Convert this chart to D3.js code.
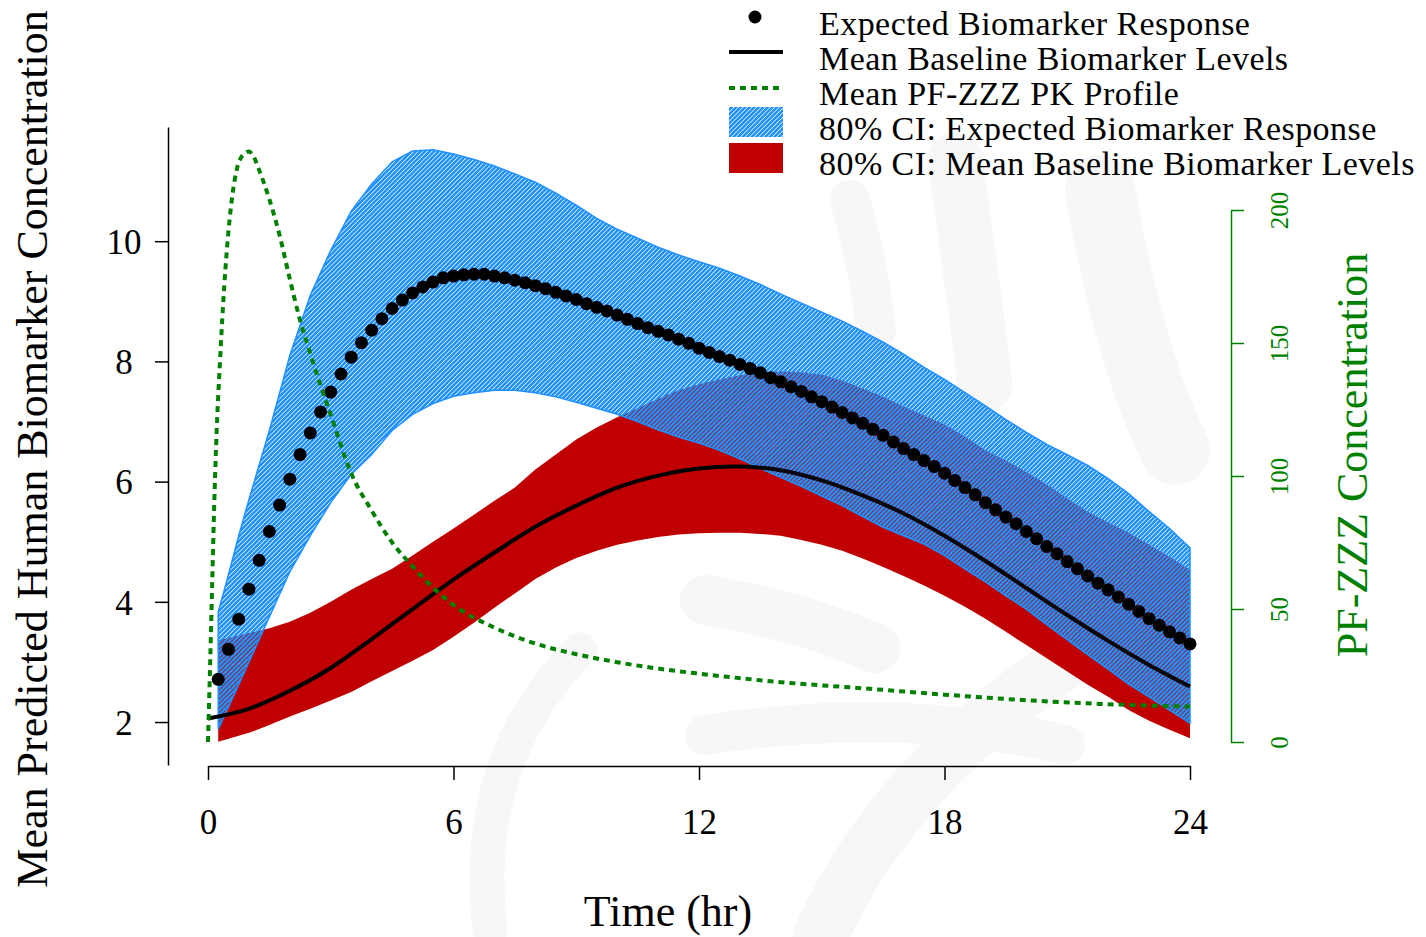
<!DOCTYPE html>
<html>
<head>
<meta charset="utf-8">
<script src="https://cdn.jsdelivr.net/npm/d3@7"></script>
<style>
  html, body { margin: 0; padding: 0; background: #fff; }
  svg text { font-family: "Liberation Serif", "Times New Roman", serif; }
</style>
</head>
<body>
<svg id="chart" width="1426" height="937"></svg>
<script>
// ---- data ----
const bandTime = [0.25, 0.5, 0.75, 1, 1.5, 2, 2.5, 3, 3.5, 4, 4.5, 5, 5.5, 6, 6.5, 7, 7.5, 8, 8.5, 9, 9.5,
  10, 10.5, 11, 11.5, 12, 12.5, 13, 13.5, 14, 14.5, 15, 15.5, 16, 16.5, 17, 17.5, 18, 18.5, 19, 19.5,
  20, 20.5, 21, 21.5, 22, 22.5, 23, 23.5, 24];
const respUpper = [3.83, 4.45, 5.1, 5.7, 6.85, 8.1, 9.1, 9.85, 10.5, 10.95, 11.32, 11.5, 11.52, 11.45, 11.36,
  11.25, 11.12, 10.98, 10.8, 10.6, 10.38, 10.2, 10.05, 9.9, 9.77, 9.66, 9.55, 9.42, 9.28, 9.12, 8.97,
  8.82, 8.67, 8.5, 8.32, 8.12, 7.9, 7.7, 7.48, 7.26, 7.03, 6.82, 6.62, 6.45, 6.27, 6.05, 5.8, 5.5, 5.22, 4.9];
const respLower = [1.88, 2.25, 2.62, 3.0, 3.75, 4.5, 5.1, 5.65, 6.12, 6.45, 6.85, 7.12, 7.3, 7.42, 7.48,
  7.52, 7.52, 7.48, 7.41, 7.32, 7.22, 7.12, 7.0, 6.86, 6.74, 6.64, 6.52, 6.38, 6.22, 6.07, 5.92,
  5.76, 5.6, 5.42, 5.24, 5.1, 4.96, 4.77, 4.55, 4.33, 4.1, 3.88, 3.62, 3.37, 3.12, 2.88, 2.63, 2.42, 2.2, 1.98];
const baseUpper = [3.36, 3.4, 3.44, 3.48, 3.56, 3.67, 3.82, 4.0, 4.2, 4.38, 4.55, 4.77, 5.0, 5.22, 5.45,
  5.68, 5.9, 6.2, 6.45, 6.7, 6.9, 7.07, 7.22, 7.38, 7.52, 7.62, 7.7, 7.77, 7.81, 7.83, 7.82,
  7.78, 7.68, 7.55, 7.41, 7.25, 7.1, 6.95, 6.75, 6.52, 6.35, 6.16, 5.95, 5.72, 5.5, 5.32, 5.15, 4.95, 4.75, 4.53];
const baseLower = [1.67, 1.72, 1.77, 1.82, 1.95, 2.09, 2.22, 2.36, 2.5, 2.68, 2.85, 3.02, 3.2, 3.42, 3.65,
  3.9, 4.14, 4.38, 4.57, 4.73, 4.85, 4.95, 5.02, 5.08, 5.12, 5.14, 5.15, 5.15, 5.13, 5.1, 5.03,
  4.95, 4.85, 4.72, 4.58, 4.43, 4.27, 4.1, 3.92, 3.72, 3.5, 3.28, 3.06, 2.84, 2.62, 2.42, 2.2, 2.02, 1.87, 1.73];

const baseTime = [0, 1, 2, 3, 4, 5, 6, 7, 8, 9, 10, 11, 12, 13, 14, 15, 16, 17, 18, 19, 20, 21, 22, 23, 24];
const baseMean = [2.06, 2.22, 2.52, 2.9, 3.38, 3.88, 4.37, 4.82, 5.25, 5.6, 5.9, 6.1, 6.22, 6.25, 6.19,
  6.02, 5.77, 5.47, 5.1, 4.68, 4.23, 3.78, 3.35, 2.95, 2.59];

const respTime = [0.25, 0.5, 0.75, 1, 1.25, 1.5, 1.75, 2, 2.25, 2.5, 2.75, 3, 3.25, 3.5, 3.75, 4,
  4.25, 4.5, 4.75, 5, 5.25, 5.5, 5.75, 6, 6.25, 6.5, 6.75, 7, 7.25, 7.5, 7.75, 8,
  8.25, 8.5, 8.75, 9, 9.25, 9.5, 9.75, 10, 10.25, 10.5, 10.75, 11, 11.25, 11.5, 11.75, 12,
  12.25, 12.5, 12.75, 13, 13.25, 13.5, 13.75, 14, 14.25, 14.5, 14.75, 15, 15.25, 15.5, 15.75, 16,
  16.25, 16.5, 16.75, 17, 17.25, 17.5, 17.75, 18, 18.25, 18.5, 18.75, 19, 19.25, 19.5, 19.75, 20,
  20.25, 20.5, 20.75, 21, 21.25, 21.5, 21.75, 22, 22.25, 22.5, 22.75, 23, 23.25, 23.5, 23.75, 24];
const respMean = [2.71, 3.21, 3.71, 4.21, 4.69, 5.17, 5.61, 6.04, 6.45, 6.81, 7.16, 7.49, 7.79, 8.07, 8.31, 8.52,
  8.71, 8.88, 9.02, 9.14, 9.24, 9.32, 9.39, 9.42, 9.44, 9.45, 9.45, 9.42, 9.39, 9.35, 9.31, 9.26,
  9.21, 9.15, 9.09, 9.03, 8.96, 8.9, 8.84, 8.77, 8.7, 8.63, 8.56, 8.5, 8.44, 8.37, 8.3, 8.22,
  8.15, 8.08, 8.02, 7.95, 7.88, 7.81, 7.73, 7.66, 7.58, 7.5, 7.41, 7.33, 7.24, 7.15, 7.06, 6.97,
  6.87, 6.77, 6.66, 6.55, 6.45, 6.35, 6.25, 6.14, 6.02, 5.9, 5.78, 5.65, 5.53, 5.41, 5.3, 5.17,
  5.05, 4.92, 4.8, 4.67, 4.55, 4.43, 4.31, 4.2, 4.08, 3.96, 3.84, 3.72, 3.61, 3.5, 3.4, 3.3];

const pkTime = [0, 0.05, 0.1, 0.15, 0.2, 0.3, 0.4, 0.5, 0.6, 0.7, 0.8, 0.9, 1.0, 1.1, 1.25, 1.5, 1.75,
  2, 2.25, 2.5, 2.75, 3, 3.5, 4, 4.5, 5, 5.5, 6, 7, 8, 9, 10, 11, 12, 14, 16, 18, 20, 22, 24];
const pkConc = [0, 28, 58, 88, 112, 145, 172, 192, 206, 215, 219.5, 221.3, 222, 220.5, 215, 204, 190.5,
  174, 158.6, 146, 134, 123, 101, 87, 75, 66, 58, 51.5, 43, 37, 33, 30, 27.6, 25.7, 22.5, 20.2,
  17.8, 15.7, 14.2, 13.3];

const xTicks = [0, 6, 12, 18, 24];
const yTicks = [2, 4, 6, 8, 10];
const pkTicks = [0, 50, 100, 150, 200];

const legendLabels = [
  "Expected Biomarker Response",
  "Mean Baseline Biomarker Levels",
  "Mean PF-ZZZ PK Profile",
  "80% CI: Expected Biomarker Response",
  "80% CI: Mean Baseline Biomarker Levels"
];

// ---- setup ----
const svg = d3.select("#chart");
const BLUE = "#1E90FF";
const RED = "#C00000";
const GREEN = "#008000";

const x = d3.scaleLinear().domain([0, 24]).range([208, 1190]);
const y = d3.scaleLinear().domain([1.285, 11.9]).range([765, 127]);
const yPk = d3.scaleLinear().domain([0, 200]).range([742, 210]);

svg.append("rect").attr("width", 1426).attr("height", 937).attr("fill", "#fff");

// faint background watermark
const wm = svg.append("g").attr("fill", "none").attr("stroke", "#f7f7f7").attr("stroke-linecap", "round");
[
  ["M 850 200 Q 870 270 876 330", 40],
  ["M 955 160 Q 975 300 985 385", 55],
  ["M 1100 190 Q 1130 360 1175 450", 70],
  ["M 705 600 Q 800 615 875 648", 50],
  ["M 705 735 Q 900 705 1065 745", 40],
  ["M 820 937 Q 900 760 1100 640", 55],
  ["M 490 930 Q 470 760 580 650", 35]
].forEach(([d, w]) => wm.append("path").attr("d", d).attr("stroke-width", w));

const defs = svg.append("defs");
defs.append("pattern")
  .attr("id", "hatch")
  .attr("patternUnits", "userSpaceOnUse")
  .attr("width", 3.2)
  .attr("height", 3.2)
  .attr("patternTransform", "rotate(45)")
  .append("rect")
  .attr("width", 2.5)
  .attr("height", 3.2)
  .attr("fill", BLUE);

// ---- bands ----
const baseBand = bandTime.map((t, i) => ({ t, lo: baseLower[i], hi: baseUpper[i] }));
const respBand = bandTime.map((t, i) => ({ t, lo: respLower[i], hi: respUpper[i] }));
const band = d3.area().x(d => x(d.t)).y0(d => y(d.lo)).y1(d => y(d.hi));

svg.append("path").datum(baseBand).attr("d", band).attr("fill", RED);
svg.append("path").datum(respBand).attr("d", band)
  .attr("fill", "url(#hatch)").attr("stroke", BLUE).attr("stroke-width", 1.5);

// mean baseline line
const baseLine = d3.line().x((d, i) => x(baseTime[i])).y(d => y(d)).curve(d3.curveCatmullRom);
svg.append("path").datum(baseMean).attr("d", baseLine)
  .attr("fill", "none").attr("stroke", "#000").attr("stroke-width", 4);

// expected response dots
svg.append("g").selectAll("circle").data(respMean).join("circle")
  .attr("cx", (d, i) => x(respTime[i])).attr("cy", d => y(d)).attr("r", 6.5).attr("fill", "#000");

// PK profile
const pkLine = d3.line().x((d, i) => x(pkTime[i])).y(d => yPk(d)).curve(d3.curveMonotoneX);
svg.append("path").datum(pkConc).attr("d", pkLine)
  .attr("fill", "none").attr("stroke", GREEN).attr("stroke-width", 4).attr("stroke-dasharray", "6 5");

// ---- axes ----
const xAxis = svg.append("g").attr("transform", "translate(0,766)")
  .call(d3.axisBottom(x).tickValues(xTicks).tickSize(14).tickSizeOuter(0));
const yAxis = svg.append("g").attr("transform", "translate(168,0)")
  .call(d3.axisLeft(y).tickValues(yTicks).tickSize(13).tickSizeOuter(0));
const pkAxis = svg.append("g").attr("transform", "translate(1231,0)")
  .call(d3.axisRight(yPk).tickValues(pkTicks).tickSize(13).tickSizeOuter(0));

[xAxis, yAxis].forEach(g => {
  g.selectAll("path, line").attr("stroke", "#000").attr("stroke-width", 1.5);
  g.selectAll("text").attr("fill", "#000").style("font-family", "Liberation Serif").style("font-size", "35px");
});
xAxis.selectAll("text").attr("y", 68).attr("dy", 0);
yAxis.selectAll("text").attr("text-anchor", "middle").attr("x", -44).attr("dy", "0.35em");

pkAxis.selectAll("path, line").attr("stroke", GREEN).attr("stroke-width", 1.5);
pkAxis.selectAll("text")
  .attr("fill", GREEN).style("font-family", "Liberation Serif").style("font-size", "25px")
  .attr("x", 0).attr("dy", 0).attr("text-anchor", "middle")
  .attr("transform", "translate(57,0) rotate(-90)");
pkAxis.selectAll(".tick text").attr("y", 0);

// axis titles
svg.append("text").attr("x", 668).attr("y", 926).attr("text-anchor", "middle")
  .style("font-size", "44px").text("Time (hr)");
svg.append("text").attr("transform", "translate(47,449) rotate(-90)").attr("text-anchor", "middle")
  .style("font-size", "44px").text("Mean Predicted Human Biomarker Concentration");
svg.append("text").attr("transform", "translate(1367,455) rotate(-90)").attr("text-anchor", "middle")
  .attr("fill", GREEN).style("font-size", "44px").text("PF-ZZZ Concentration");

// ---- legend ----
const leg = svg.append("g");
const rowY = [17, 52, 88, 122, 158];
leg.append("circle").attr("cx", 755).attr("cy", rowY[0]).attr("r", 6.5).attr("fill", "#000");
leg.append("line").attr("x1", 729).attr("x2", 783).attr("y1", rowY[1]).attr("y2", rowY[1])
  .attr("stroke", "#000").attr("stroke-width", 4);
leg.append("line").attr("x1", 729).attr("x2", 783).attr("y1", rowY[2]).attr("y2", rowY[2])
  .attr("stroke", GREEN).attr("stroke-width", 4).attr("stroke-dasharray", "6 5");
leg.append("rect").attr("x", 729).attr("y", 107).attr("width", 54).attr("height", 30).attr("fill", "url(#hatch)");
leg.append("rect").attr("x", 729).attr("y", 143).attr("width", 54).attr("height", 30).attr("fill", RED);
leg.selectAll("text.lbl").data(legendLabels).join("text")
  .attr("class", "lbl")
  .attr("x", 819)
  .attr("y", (d, i) => 35 + i * 35)
  .style("font-size", "34px")
  .style("letter-spacing", "0.45px")
  .text(d => d);
</script>
</body>
</html>
